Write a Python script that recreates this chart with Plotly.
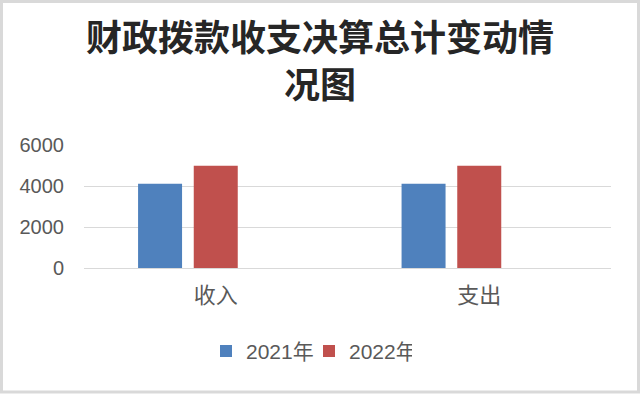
import plotly.graph_objects as go

# Chart data
categories = ["收入", "支出"]
series_names = ["2021年", "2022年"]
values_2021 = [4112, 4112]
values_2022 = [4990, 4990]
y_ticks = [0, 2000, 4000, 6000]

colors = ["#4F81BD", "#C0504D"]
font_family = "Liberation Sans, Arial, Noto Sans CJK SC"
text_color = "#595959"

W, H = 640, 394
margin = dict(l=84, r=29, t=145, b=126)

fig = go.Figure()
for name, vals, col in zip(series_names, [values_2021, values_2022], colors):
    fig.add_trace(go.Bar(x=categories, y=vals, name=name,
                         marker=dict(color=col, line=dict(width=0))))
# empty third series slot in each cluster
fig.add_trace(go.Bar(x=categories, y=[None, None], showlegend=False,
                     hoverinfo="skip", marker=dict(color="rgba(0,0,0,0)")))

# outer chart border
pw = W - margin["l"] - margin["r"]
ph = H - margin["t"] - margin["b"]
fig.add_shape(type="rect", xref="paper", yref="paper",
              x0=-(margin["l"] - 1.5) / pw, x1=1 + (margin["r"] - 1.5) / pw,
              y0=-(margin["b"] - 2) / ph, y1=1 + (margin["t"] - 1.5) / ph,
              line=dict(color="#D9D9D9", width=3), layer="below")

fig.update_layout(
    width=W, height=H, margin=margin,
    paper_bgcolor="white", plot_bgcolor="white",
    barmode="group", bargap=0.366, bargroupgap=0.21,
    title=dict(text="财政拨款收支决算总计变动情<br>况图",
               x=0.5, xanchor="center", y=0.87, yanchor="top",
               font=dict(family="Noto Sans CJK SC", size=36, color="#262626",
                         weight="bold")),
    font=dict(family=font_family, color=text_color, size=20),
    legend=dict(orientation="h", x=(309 - margin["l"]) / pw, xanchor="center",
                y=-0.51, yanchor="top",
                font=dict(size=21, color=text_color), entrywidth=58,
                traceorder="normal"),
    showlegend=True,
)
fig.update_yaxes(range=[0, 6000], tickvals=y_ticks, showgrid=True,
                 gridcolor="#D9D9D9", gridwidth=1, zeroline=True,
                 zerolinecolor="#D9D9D9", zerolinewidth=1, showline=False,
                 ticklabelstandoff=19, tickfont=dict(size=20, color=text_color))
fig.update_xaxes(showline=False, showgrid=False, ticks="",
                 ticklabelstandoff=12, tickfont=dict(size=22, color=text_color))

fig.write_html("out.html")
